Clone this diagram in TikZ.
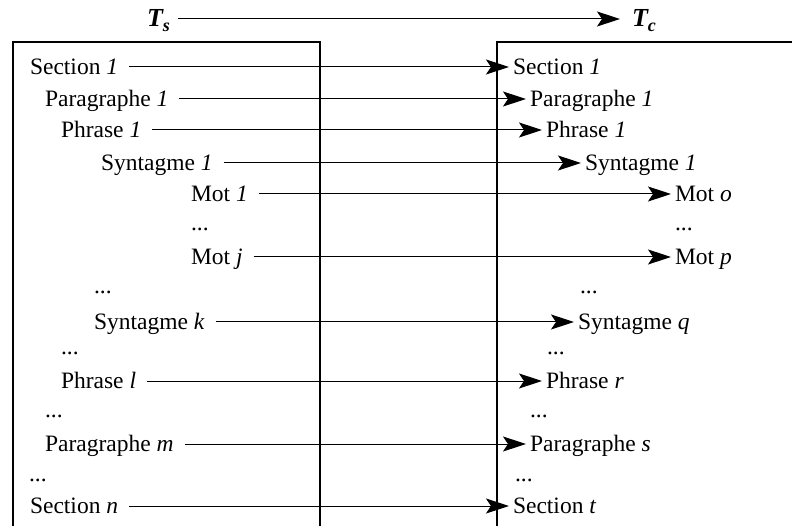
\documentclass[tikz,border=0pt]{standalone}
\usepackage{fontspec}
\setmainfont{Liberation Serif}
\usetikzlibrary{arrows.meta}
\begin{document}
\begin{tikzpicture}[x=1pt,y=-1pt,
  txt/.style={inner sep=0pt, outer sep=0pt, text height=15pt, text depth=0pt, anchor=west, font=\fontsize{23.5}{28}\selectfont},
  hdr/.style={inner sep=0pt, outer sep=0pt, text height=16pt, text depth=0pt, anchor=west, font=\fontsize{26}{30}\selectfont\bfseries\itshape},
  dotsnode/.style={inner sep=0pt, outer sep=0pt, anchor=base west, font=\fontsize{23.5}{28}\selectfont},
  conn/.style={line width=1pt, shorten <=11pt, shorten >=4pt, -{Stealth[length=23pt,width=15pt,inset=5pt]}},
  boxline/.style={line width=1.2pt}]
\useasboundingbox (0,0) rectangle (792,526);
% frames
\draw[boxline] (13,526) -- (13,42) -- (320,42) -- (320,526);
\draw[boxline] (497,526) -- (497,42) -- (792,42);
% header
\node[hdr] (ts) at (147,19) {T\raisebox{-0.4ex}{\fontsize{18}{20}\selectfont s}};
\node[hdr] (tc) at (632,19) {T\raisebox{-0.4ex}{\fontsize{18}{20}\selectfont c}};
\draw[conn, shorten <=8pt, shorten >=12pt] (ts) -- (tc);
% left items
\node[txt] (l1) at (30,67) {Section \textit{1}};
\node[txt] (l2) at (45,99) {Paragraphe \textit{1}};
\node[txt] (l3) at (61,130) {Phrase \textit{1}};
\node[txt] (l4) at (101,163) {Syntagme \textit{1}};
\node[txt] (l5) at (191,194) {Mot \textit{1}};
\node[dotsnode] (ld1) at (191,231) {...};
\node[txt] (l6) at (191,257) {Mot \textit{j}};
\node[dotsnode] (ld2) at (94,294) {...};
\node[txt] (l7) at (94,322) {Syntagme \textit{k}};
\node[dotsnode] (ld3) at (61,355) {...};
\node[txt] (l8) at (61,381) {Phrase \textit{l}};
\node[dotsnode] (ld4) at (45,417) {...};
\node[txt] (l9) at (45,444) {Paragraphe \textit{m}};
\node[dotsnode] (ld5) at (29,481) {...};
\node[txt] (l10) at (30,506) {Section \textit{n}};
% right items
\node[txt] (r1) at (513,67) {Section \textit{1}};
\node[txt] (r2) at (530,99) {Paragraphe \textit{1}};
\node[txt] (r3) at (546,130) {Phrase \textit{1}};
\node[txt] (r4) at (585,163) {Syntagme \textit{1}};
\node[txt] (r5) at (675,194) {Mot \textit{o}};
\node[dotsnode] (rd1) at (675,231) {...};
\node[txt] (r6) at (675,257) {Mot \textit{p}};
\node[dotsnode] (rd2) at (580,294) {...};
\node[txt] (r7) at (578,322) {Syntagme \textit{q}};
\node[dotsnode] (rd3) at (547,355) {...};
\node[txt] (r8) at (546,381) {Phrase \textit{r}};
\node[dotsnode] (rd4) at (530,417) {...};
\node[txt] (r9) at (530,444) {Paragraphe \textit{s}};
\node[dotsnode] (rd5) at (515,481) {...};
\node[txt] (r10) at (513,506) {Section \textit{t}};
% connectors
\foreach \i in {1,...,10} {\draw[conn] (l\i) -- (r\i);}
\end{tikzpicture}
\end{document}
